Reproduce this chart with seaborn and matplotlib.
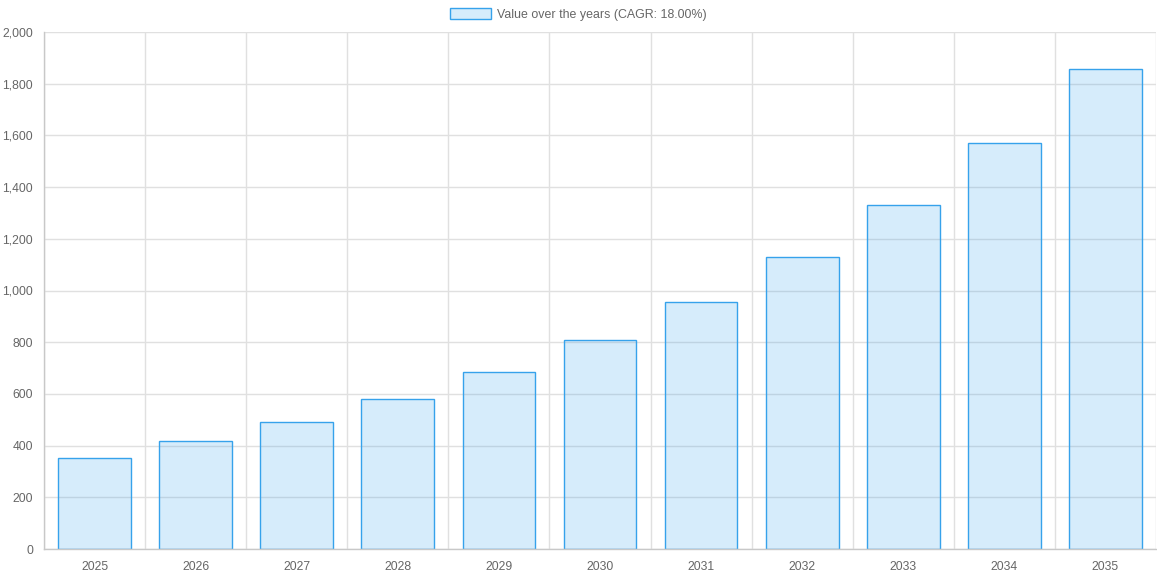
import numpy as np
import pandas as pd
import matplotlib
matplotlib.use("Agg")
import matplotlib.pyplot as plt
import seaborn as sns
from matplotlib.patches import Patch
from matplotlib.ticker import FixedLocator, FuncFormatter

years = ["2025", "2026", "2027", "2028", "2029", "2030", "2031", "2032", "2033", "2034", "2035"]
values = [353, 417, 492, 581, 685, 809, 955, 1128, 1332, 1572, 1855]
series_label = "Value over the years (CAGR: 18.00%)"

df = pd.DataFrame({"year": years, "value": values})

sns.set_style("white")
plt.rcParams["font.family"] = ["Liberation Sans", "DejaVu Sans"]

fill = (54 / 255, 162 / 255, 235 / 255, 0.2)
edge = (54 / 255, 162 / 255, 235 / 255, 1.0)
text_col = "#666666"
grid_col = "#e0e0e0"
px = 0.72  # points per pixel at dpi 100

fig = plt.figure(figsize=(11.57, 5.78), dpi=100)
ax = fig.add_axes([44 / 1157, 29 / 578, 1112 / 1157, 517 / 578])

sns.barplot(data=df, x="year", y="value", color=fill, edgecolor=edge,
            linewidth=1, width=0.72, saturation=1, ax=ax)
for p in ax.patches:
    p.set_facecolor(fill)
    p.set_edgecolor(edge)

ax.set_xlim(-0.5, len(years) - 0.5)
ax.set_ylim(0, 2000)
ax.set_yticks(np.arange(0, 2001, 200))
ax.yaxis.set_major_formatter(FuncFormatter(lambda v, _: f"{int(v):,}"))

# vertical grid at category boundaries, like chart.js offset grid lines
ax.xaxis.set_minor_locator(FixedLocator(np.arange(-0.5, len(years), 1.0)))
ax.tick_params(axis="x", which="major", length=0, pad=12 * px, labelsize=8.7, colors=text_col)
ax.tick_params(axis="x", which="minor", length=8 * px, color=grid_col, width=1)
ax.tick_params(axis="y", which="major", length=8 * px, width=1, pad=3 * px,
               labelsize=8.7, colors=text_col)
ax.tick_params(axis="y", which="major", color=grid_col)
ax.grid(True, axis="x", which="minor", color=grid_col, linewidth=1)
ax.grid(True, axis="y", which="major", color=grid_col, linewidth=1)
ax.set_axisbelow(True)

for side in ["top", "right"]:
    ax.spines[side].set_visible(False)
for side in ["left", "bottom"]:
    ax.spines[side].set_color("#c8c8c8")
    ax.spines[side].set_linewidth(1)

ax.set_xlabel("")
ax.set_ylabel("")

handle = Patch(facecolor=fill, edgecolor=edge, linewidth=1)
fig.legend([handle], [series_label], loc="upper center", bbox_to_anchor=(0.5, 1.005),
           frameon=False, fontsize=8.9, labelcolor=text_col,
           handlelength=3.3, handleheight=1.0, handletextpad=0.5)

fig.savefig("out.png", dpi=100)
